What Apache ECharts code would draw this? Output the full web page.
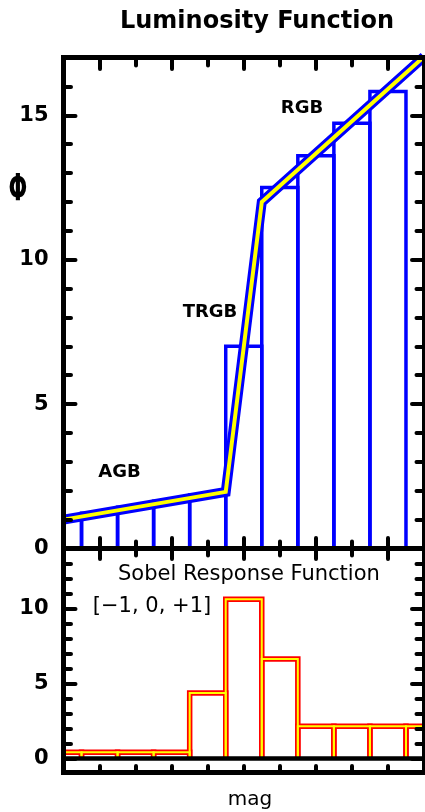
<!DOCTYPE html>
<html><head><meta charset="utf-8">
<script src="https://cdn.jsdelivr.net/npm/echarts@6/dist/echarts.min.js"></script>
<style>html,body{margin:0;padding:0;background:#fff}#c{width:425px;height:812px}</style>
</head><body><div id="c"></div>
<script>
// ---- data (bins centred on integer mag steps) ----
const binCenters = [0, 1, 2, 3, 4, 5, 6, 7, 8, 9];
const lfValues = [1.01, 1.22, 1.43, 1.64, 1.85, 7.0, 12.5, 13.6, 14.72, 15.82];
const sobelBins = [0, 1, 2, 3, 4, 5, 6, 7, 8, 9, 10];
const sobelValues = [0.42, 0.42, 0.42, 0.42, 4.36, 10.62, 6.64, 2.15, 2.15, 2.15, 2.15];
const fitMag = [0, 4.5, 5.5, 10];
const fitPhi = [1.0, 1.96, 12.0, 17.03];
const xMajorTicks = [1, 3, 5, 7, 9];
const xMinorTicks = [2, 4, 6, 8];
const lfMajorTicks = [0, 5, 10, 15];
const lfMinorTicks = [1, 2, 3, 4, 6, 7, 8, 9, 11, 12, 13, 14, 16];
const sobelMajorTicks = [0, 5, 10];
const sobelMinorTicks = [1, 2, 3, 4, 6, 7, 8, 9, 11, 12, 13];

const X_MIN = 0, X_MAX = 10;
const LF_MIN = 0, LF_MAX = 17;
const SB_MIN = -0.9, SB_MAX = 14;
const FONT = '"DejaVu Sans"';

const chart = echarts.init(document.getElementById('c'), null, {renderer: 'canvas'});

function tickStyle() { return {color: '#000', width: 4, cap: 'round'}; }
function xAx(grid, pos, ticks, len, showLine) {
  return {
    type: 'value', gridIndex: grid, position: pos, min: X_MIN, max: X_MAX, z: 10,
    axisLine: {show: showLine !== false, onZero: false, lineStyle: {color: '#000', width: 5, cap: 'square'}},
    axisTick: {show: ticks.length > 0, inside: true, length: len, customValues: ticks, lineStyle: tickStyle()},
    axisLabel: {show: false}, splitLine: {show: false}
  };
}
function yAx(grid, pos, min, max, ticks, len, labels) {
  return {
    type: 'value', gridIndex: grid, position: pos, min: min, max: max, z: 10,
    axisLine: {show: true, onZero: false, lineStyle: {color: '#000', width: 5, cap: 'square'}},
    axisTick: {show: true, inside: true, length: len, customValues: ticks, lineStyle: tickStyle()},
    axisLabel: labels ? {show: true, customValues: labels, fontFamily: FONT, fontWeight: 'bold', fontSize: 21, color: '#000', margin: 15} : {show: false},
    splitLine: {show: false}
  };
}

const zeroLine = {
  type: 'value', gridIndex: 1, position: 'bottom', min: X_MIN, max: X_MAX, z: 10,
  axisLine: {show: true, onZero: true, onZeroAxisIndex: 4, lineStyle: {color: '#000', width: 4.5}},
  axisTick: {show: false}, axisLabel: {show: false}, splitLine: {show: false}
};

function histRender(color, width) {
  return function (params, api) {
    const k = api.value(0), v = api.value(1);
    const a = api.coord([k - 0.5, 0]);
    const b = api.coord([k - 0.5, v]);
    const c = api.coord([k + 0.5, v]);
    const d = api.coord([k + 0.5, 0]);
    return {type: 'polyline', shape: {points: [a, b, c, d]},
      style: {fill: 'none', stroke: color, lineWidth: width, lineJoin: 'miter', lineCap: 'butt'}};
  };
}

const lfData = binCenters.map((c, i) => [c, lfValues[i]]);
const sbData = sobelBins.map((c, i) => [c, sobelValues[i]]);
const fitData = fitMag.map((m, i) => [m, fitPhi[i]]);

function txt(x, y, text, font, align, extra) {
  return Object.assign({type: 'text', x: x, y: y, z: 100,
    style: {text: text, font: font, fill: '#000', align: align || 'center', verticalAlign: 'middle',
      textAlign: align || 'center', textVerticalAlign: 'middle'}}, extra || {});
}

chart.setOption({
  animation: false,
  backgroundColor: '#fff',
  grid: [
    {left: 63.5, top: 57.5, width: 360.5, height: 491, show: false},
    {left: 63.5, top: 548.5, width: 360.5, height: 223.5, show: false}
  ],
  xAxis: [
    xAx(0, 'bottom', xMajorTicks, 10.5),
    xAx(0, 'bottom', xMinorTicks, 7),
    xAx(0, 'top', xMajorTicks, 11.5),
    xAx(0, 'top', xMinorTicks, 8),
    xAx(1, 'top', xMajorTicks, 10.5),
    xAx(1, 'top', xMinorTicks, 7),
    xAx(1, 'bottom', xMajorTicks.concat(xMinorTicks), 6),
    zeroLine
  ],
  yAxis: [
    yAx(0, 'left', LF_MIN, LF_MAX, lfMajorTicks, 12, lfMajorTicks),
    yAx(0, 'left', LF_MIN, LF_MAX, lfMinorTicks, 7.5),
    yAx(0, 'right', LF_MIN, LF_MAX, lfMajorTicks, 12),
    yAx(0, 'right', LF_MIN, LF_MAX, lfMinorTicks, 7.5),
    yAx(1, 'left', SB_MIN, SB_MAX, sobelMajorTicks, 12, sobelMajorTicks),
    yAx(1, 'left', SB_MIN, SB_MAX, sobelMinorTicks, 7.5),
    yAx(1, 'right', SB_MIN, SB_MAX, sobelMajorTicks, 12),
    yAx(1, 'right', SB_MIN, SB_MAX, sobelMinorTicks, 7.5)
  ],
  series: [
    {type: 'custom', xAxisIndex: 0, yAxisIndex: 0, clip: true, data: lfData, renderItem: histRender('#0000ff', 3.5), z: 2},
    {type: 'line', xAxisIndex: 0, yAxisIndex: 0, clip: true, data: fitData, showSymbol: false, symbol: 'none',
      lineStyle: {color: '#0000ff', width: 10, join: 'miter'}, z: 3},
    {type: 'line', xAxisIndex: 0, yAxisIndex: 0, clip: true, data: fitData, showSymbol: false, symbol: 'none',
      lineStyle: {color: '#ffff00', width: 4, join: 'miter'}, z: 4},
    {type: 'custom', xAxisIndex: 4, yAxisIndex: 4, clip: true, data: sbData, renderItem: histRender('#ff0000', 5.5), z: 2},
    {type: 'custom', xAxisIndex: 4, yAxisIndex: 4, clip: true, data: sbData, renderItem: histRender('#ffff00', 2), z: 3}
  ],
  graphic: [
    txt(257, 21.5, 'Luminosity Function', 'bold 24px ' + FONT),
    txt(18, 190, 'Φ', 'bold 26px ' + FONT, 'center', {scaleX: 0.85, scaleY: 1.45}),
    txt(302, 108, 'RGB', 'bold 18px ' + FONT),
    txt(210, 312, 'TRGB', 'bold 18px ' + FONT),
    txt(119.5, 472, 'AGB', 'bold 18px ' + FONT),
    txt(118, 575, 'Sobel Response Function', '21px ' + FONT, 'left'),
    txt(152, 607, '[\u22121, 0, +1]', '21px ' + FONT),
    txt(250, 800, 'mag', '20px ' + FONT)
  ]
});
</script>
</body></html>
